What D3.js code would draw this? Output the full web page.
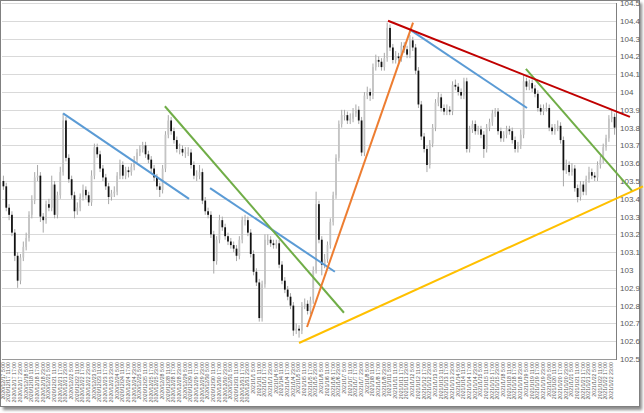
<!DOCTYPE html>
<html><head><meta charset="utf-8">
<script src="https://cdn.jsdelivr.net/npm/d3@7"></script>
<style>html,body{margin:0;padding:0;background:#fff;}svg{display:block;}</style>
</head><body>
<script>
const days = ["2020/12/17","2020/12/18","2020/12/21","2020/12/22","2020/12/23","2020/12/24","2020/12/25","2020/12/28","2020/12/29","2020/12/30","2020/12/31","2021/1/1","2021/1/4","2021/1/5","2021/1/6","2021/1/7","2021/1/8","2021/1/11","2021/1/12","2021/1/13","2021/1/14","2021/1/15","2021/1/18","2021/1/19","2021/1/20","2021/1/21","2021/1/22"];
const hours = ["5:00","11:00","17:00","23:00"];
const yTicks = [102.5,102.6,102.7,102.8,102.9,103,103.1,103.2,103.3,103.4,103.5,103.6,103.7,103.8,103.9,104,104.1,104.2,104.3,104.4,104.5];

const opens = [103.50,103.47,103.35,103.31,103.21,103.08,102.94,103.07,103.13,103.18,103.31,103.39,103.52,103.53,103.30,103.28,103.37,103.35,103.48,103.31,103.42,103.55,103.84,103.63,103.51,103.42,103.33,103.35,103.41,103.45,103.42,103.38,103.53,103.69,103.65,103.57,103.52,103.47,103.41,103.43,103.44,103.53,103.59,103.53,103.56,103.55,103.58,103.62,103.66,103.68,103.70,103.65,103.62,103.57,103.52,103.47,103.45,103.57,103.76,103.84,103.78,103.73,103.68,103.68,103.66,103.66,103.66,103.59,103.53,103.53,103.55,103.39,103.33,103.31,103.20,103.05,103.17,103.28,103.24,103.19,103.16,103.14,103.12,103.08,103.17,103.28,103.28,103.21,103.09,102.99,102.93,102.73,102.92,103.17,103.17,103.15,103.14,103.15,103.03,102.94,102.89,102.85,102.80,102.66,102.67,102.66,102.80,102.81,102.77,102.83,103.00,103.37,103.17,103.03,103.06,103.14,103.27,103.42,103.63,103.82,103.87,103.87,103.84,103.85,103.88,103.90,103.84,103.66,103.98,104.00,103.98,104.14,104.18,104.17,104.14,104.19,104.36,104.25,104.18,104.20,104.19,104.26,104.24,104.21,104.29,104.25,104.12,103.93,103.75,103.68,103.59,103.71,103.80,103.94,103.97,103.91,103.89,103.90,103.89,104.04,104.03,104.00,103.98,104.06,103.68,103.79,103.82,103.78,103.79,103.76,103.68,103.80,103.83,103.88,103.89,103.78,103.74,103.76,103.79,103.78,103.73,103.68,103.70,103.76,104.06,104.03,104.05,104.02,103.99,103.91,103.89,103.91,103.91,103.80,103.78,103.80,103.81,103.73,103.56,103.59,103.55,103.57,103.46,103.41,103.48,103.44,103.51,103.55,103.53,103.52,103.59,103.62,103.69,103.74,103.85,103.86];
const closes = [103.47,103.35,103.31,103.21,103.08,102.94,103.07,103.13,103.18,103.31,103.39,103.52,103.53,103.30,103.28,103.37,103.35,103.48,103.31,103.42,103.55,103.84,103.63,103.51,103.42,103.33,103.35,103.41,103.45,103.42,103.38,103.53,103.69,103.65,103.57,103.52,103.47,103.41,103.43,103.44,103.53,103.59,103.53,103.56,103.55,103.58,103.62,103.66,103.68,103.70,103.65,103.62,103.57,103.52,103.47,103.45,103.57,103.76,103.84,103.78,103.73,103.68,103.68,103.66,103.66,103.66,103.59,103.53,103.53,103.55,103.39,103.33,103.31,103.20,103.05,103.17,103.28,103.24,103.19,103.16,103.14,103.12,103.08,103.17,103.28,103.28,103.21,103.09,102.99,102.93,102.73,102.92,103.17,103.17,103.15,103.14,103.15,103.03,102.94,102.89,102.85,102.80,102.66,102.67,102.66,102.80,102.81,102.77,102.83,103.00,103.37,103.17,103.03,103.06,103.14,103.27,103.42,103.63,103.82,103.87,103.87,103.84,103.85,103.88,103.90,103.84,103.66,103.98,104.00,103.98,104.14,104.18,104.17,104.14,104.19,104.36,104.25,104.18,104.20,104.19,104.26,104.24,104.21,104.29,104.25,104.12,103.93,103.75,103.68,103.59,103.71,103.80,103.94,103.97,103.91,103.89,103.90,103.89,104.04,104.03,104.00,103.98,104.06,103.68,103.79,103.82,103.78,103.79,103.76,103.68,103.80,103.83,103.88,103.89,103.78,103.74,103.76,103.79,103.78,103.73,103.68,103.70,103.76,104.06,104.03,104.05,104.02,103.99,103.91,103.89,103.91,103.91,103.80,103.78,103.80,103.81,103.73,103.56,103.59,103.55,103.57,103.46,103.41,103.48,103.44,103.51,103.55,103.53,103.52,103.59,103.62,103.69,103.74,103.85,103.86,103.80];
const highs = [103.53,103.49,103.37,103.33,103.23,103.10,103.09,103.16,103.21,103.33,103.42,103.55,103.59,103.55,103.32,103.39,103.40,103.53,103.50,103.44,103.58,103.88,103.86,103.65,103.53,103.44,103.38,103.43,103.48,103.47,103.44,103.56,103.71,103.71,103.67,103.59,103.54,103.49,103.45,103.47,103.55,103.62,103.61,103.58,103.58,103.60,103.64,103.68,103.70,103.72,103.72,103.67,103.64,103.59,103.54,103.49,103.59,103.78,103.87,103.86,103.80,103.75,103.71,103.70,103.69,103.69,103.68,103.61,103.56,103.59,103.57,103.41,103.35,103.33,103.22,103.19,103.31,103.30,103.26,103.21,103.18,103.16,103.14,103.19,103.30,103.31,103.30,103.23,103.11,103.01,102.95,102.94,103.20,103.20,103.19,103.17,103.17,103.17,103.05,102.96,102.91,102.87,102.82,102.70,102.69,102.82,102.84,102.83,102.85,103.02,103.44,103.39,103.19,103.09,103.16,103.29,103.44,103.65,103.84,103.90,103.90,103.89,103.88,103.91,103.93,103.92,103.86,104.00,104.03,104.02,104.16,104.21,104.20,104.19,104.22,104.39,104.38,104.27,104.23,104.22,104.28,104.28,104.26,104.32,104.31,104.27,104.14,103.95,103.77,103.70,103.73,103.82,103.96,104.00,103.99,103.93,103.93,103.92,104.06,104.07,104.05,104.02,104.08,104.08,103.81,103.84,103.84,103.81,103.81,103.78,103.82,103.85,103.90,103.91,103.91,103.80,103.78,103.81,103.81,103.80,103.75,103.72,103.79,104.10,104.08,104.07,104.07,104.04,104.01,103.93,103.93,103.94,103.93,103.82,103.82,103.84,103.83,103.75,103.62,103.61,103.60,103.59,103.48,103.50,103.50,103.53,103.58,103.57,103.55,103.61,103.64,103.71,103.76,103.87,103.90,103.88];
const lows = [103.45,103.33,103.28,103.19,103.05,102.90,102.92,103.05,103.11,103.16,103.29,103.37,103.50,103.27,103.21,103.26,103.33,103.33,103.29,103.29,103.40,103.53,103.61,103.49,103.40,103.29,103.31,103.33,103.39,103.40,103.36,103.36,103.51,103.63,103.55,103.50,103.45,103.37,103.39,103.41,103.42,103.51,103.51,103.51,103.52,103.53,103.56,103.60,103.64,103.66,103.63,103.60,103.55,103.50,103.45,103.41,103.43,103.55,103.74,103.76,103.71,103.66,103.65,103.64,103.63,103.64,103.57,103.51,103.50,103.51,103.37,103.31,103.29,103.18,102.98,103.03,103.15,103.22,103.17,103.14,103.12,103.10,103.05,103.06,103.15,103.25,103.19,103.07,102.97,102.91,102.71,102.71,102.90,103.14,103.13,103.12,103.12,103.01,102.92,102.87,102.83,102.78,102.63,102.64,102.62,102.64,102.78,102.75,102.75,102.81,102.98,103.15,102.97,103.01,103.04,103.12,103.25,103.40,103.61,103.80,103.84,103.82,103.82,103.83,103.86,103.82,103.64,103.64,103.96,103.95,103.96,104.12,104.14,104.12,104.12,104.17,104.23,104.16,104.16,104.17,104.17,104.22,104.19,104.19,104.23,104.10,103.91,103.73,103.66,103.55,103.57,103.69,103.78,103.92,103.89,103.87,103.87,103.87,103.87,104.01,103.98,103.96,103.96,103.66,103.66,103.77,103.76,103.76,103.74,103.63,103.66,103.78,103.81,103.86,103.76,103.72,103.72,103.74,103.76,103.71,103.66,103.66,103.68,103.74,104.01,104.01,104.00,103.97,103.89,103.87,103.87,103.89,103.78,103.76,103.76,103.78,103.71,103.47,103.54,103.53,103.53,103.44,103.38,103.39,103.42,103.42,103.49,103.51,103.50,103.50,103.57,103.60,103.67,103.72,103.83,103.76];

// trend lines: [startIndex, startPrice, endIndex, endPrice]
const trendBlue = [[21.0,103.88,65.3,103.40],[72.7,103.46,116.6,102.99],[143.0,104.35,184.2,103.91]];
const trendGreen = [[56.8,103.92,119.8,102.76],[183.8,104.13,221.4,103.44]];
const trendOrange = [[106.8,102.68,144.1,104.39]];
const trendRed = [[135.3,104.40,220.4,103.86]];
const trendYellow = [[104.0,102.59,225.0,103.47]];

const W = 644, H = 413;
const plot = {l: 2, r: 616, t: 3, b: 359};

const svg = d3.select("body").append("svg").attr("width", W).attr("height", H);
const defs = svg.append("defs");
const f = defs.append("filter").attr("id","sh").attr("x","-5%").attr("y","-5%").attr("width","110%").attr("height","110%");
f.append("feGaussianBlur").attr("stdDeviation", 1.5);

// frame with shadow
svg.append("rect").attr("x", 3).attr("y", 3).attr("width", 639).attr("height", 407).attr("fill", "#8a8a8a").attr("filter","url(#sh)");
svg.append("rect").attr("x", 0.5).attr("y", 0.5).attr("width", 639).attr("height", 406).attr("fill", "#fff").attr("stroke", "#808080");

const n = closes.length;
const idx = d3.range(n);
const x = d3.scaleBand().domain(idx).range([plot.l, plot.r]).padding(0);
const xLin = d3.scaleLinear().domain([-0.5, n - 0.5]).range([plot.l, plot.r]);
const y = d3.scaleLinear().domain([102.5, 104.5]).range([plot.b, plot.t]);

// gridlines
svg.append("g").selectAll("line").data(yTicks).join("line")
  .attr("x1", plot.l).attr("x2", plot.r)
  .attr("y1", d => Math.round(y(d)) + 0.5).attr("y2", d => Math.round(y(d)) + 0.5)
  .attr("stroke", "#d9d9d9").attr("stroke-width", 1);

// axes lines
svg.append("line").attr("x1", plot.r + 0.5).attr("x2", plot.r + 0.5).attr("y1", plot.t).attr("y2", plot.b + 1).attr("stroke", "#7f7f7f");
svg.append("line").attr("x1", plot.l).attr("x2", plot.r).attr("y1", plot.b + 0.5).attr("y2", plot.b + 0.5).attr("stroke", "#9a9a9a");

// y axis labels (right)
const yAxis = d3.axisRight(y).tickValues(yTicks).tickSize(0).tickPadding(4)
  .tickFormat(d => String(+d.toFixed(1)));
const gy = svg.append("g").attr("transform", `translate(${plot.r},0)`).call(yAxis);
gy.select(".domain").remove();
gy.selectAll("text").attr("font-family", "Liberation Sans, Arial, sans-serif").attr("font-size", "8px").attr("fill", "#595959");

// x axis labels
const labels = [];
days.forEach(dd => hours.forEach(h => labels.push(dd + " " + h)));
const labelIdx = labels.map((_, k) => k * 2);
const xAxis = d3.axisBottom(x).tickValues(labelIdx).tickSize(0).tickPadding(3)
  .tickFormat(d => labels[d / 2]);
const gx = svg.append("g").attr("transform", `translate(0,${plot.b})`).call(xAxis);
gx.select(".domain").remove();
gx.selectAll("text")
  .attr("font-family", "Liberation Sans, Arial, sans-serif").attr("font-size", "5.2px").attr("fill", "#595959")
  .attr("text-anchor", "end").attr("dy", null)
  .attr("transform", "translate(0,0) rotate(-90)")
  .attr("x", -3).attr("y", 0).attr("dominant-baseline", "middle");

// candles
const bw = Math.max(1.4, x.bandwidth() * 0.62);
const cg = svg.append("g");
cg.selectAll("line.w").data(idx).join("line").attr("class","w")
  .attr("x1", i => x(i) + x.bandwidth()/2).attr("x2", i => x(i) + x.bandwidth()/2)
  .attr("y1", i => y(highs[i])).attr("y2", i => y(lows[i]))
  .attr("stroke", "#a8a8a8").attr("stroke-width", 1);
cg.selectAll("rect").data(idx).join("rect")
  .attr("x", i => x(i) + x.bandwidth()/2 - bw/2).attr("width", bw)
  .attr("y", i => y(Math.max(opens[i], closes[i])))
  .attr("height", i => Math.max(1, Math.abs(y(opens[i]) - y(closes[i]))))
  .attr("fill", i => closes[i] < opens[i] ? "#111" : "#c4c4c4");

// trend lines
const drawTrend = (arr, color) => {
  svg.append("g").selectAll("line").data(arr).join("line")
    .attr("x1", d => xLin(d[0])).attr("y1", d => y(d[1]))
    .attr("x2", d => xLin(d[2])).attr("y2", d => y(d[3]))
    .attr("stroke", color).attr("stroke-width", 2).attr("stroke-linecap", "butt");
};
drawTrend(trendBlue, "#5B9BD5");
drawTrend(trendGreen, "#70AD47");
drawTrend(trendYellow, "#FFC000");
drawTrend(trendOrange, "#ED7D31");
drawTrend(trendRed, "#C00000");
</script>
</body></html>
